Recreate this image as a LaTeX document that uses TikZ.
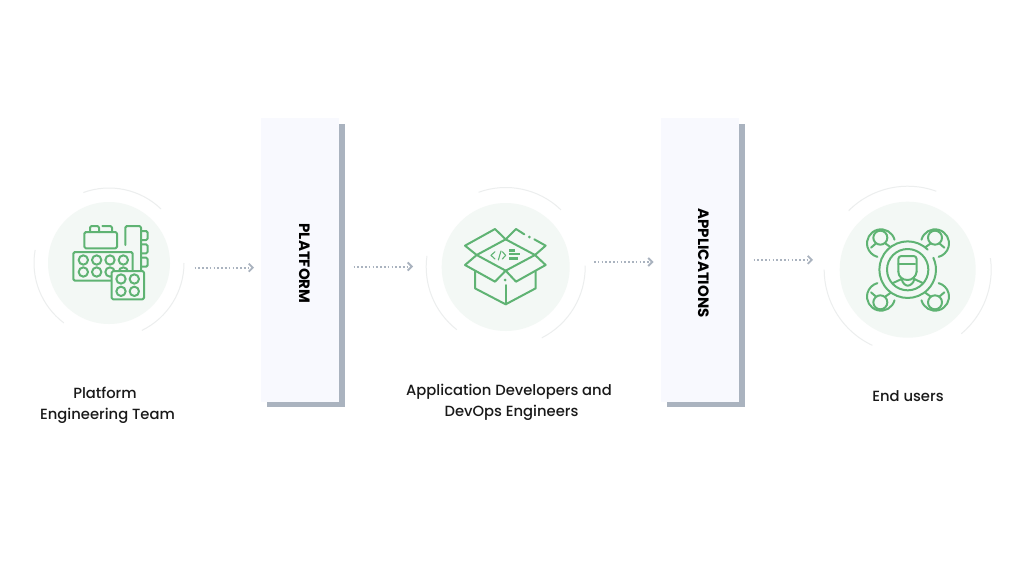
\documentclass[tikz,border=0pt]{standalone}
\usepackage{fontspec}
\setmainfont{Poppins}
\newfontfamily\capfont{Poppins Medium}
\usetikzlibrary{arrows.meta}
\definecolor{leaf}{HTML}{5FB373}
\definecolor{discbg}{HTML}{F3F8F5}
\definecolor{ringc}{HTML}{ECEEEE}
\definecolor{panelbg}{HTML}{F8F9FE}
\definecolor{slate}{HTML}{AAB3BF}
\tikzset{
  disc/.style={circle,fill=discbg,inner sep=0pt,outer sep=0pt},
  ring/.style={draw=ringc,line width=1pt},
  panel/.style={rectangle,fill=panelbg,inner sep=0pt,outer sep=0pt,minimum width=78pt,minimum height=284pt},
  backing/.style={rectangle,fill=slate,inner sep=0pt,outer sep=0pt,minimum width=78pt,minimum height=283pt},
  vlabel/.style={rotate=-90,font=\fontsize{15}{17}\selectfont\bfseries,text=black,inner sep=0pt},
  caption/.style={align=center,font=\capfont\fontsize{14.75}{21}\selectfont,text=black!90,inner sep=0pt},
  flow/.style={draw=slate,line width=2pt,dash pattern=on 1.6pt off 2.2pt,-{Straight Barb[length=4pt,width=8pt,line width=1.8pt]}},
  icon/.style={draw=leaf,line width=2pt,line join=round,line cap=round},
  thinicon/.style={draw=leaf,line width=1.1pt,line join=round,line cap=round},
}
\newcommand{\ringarc}[4]{\draw[ring] ([shift={(#2:#4pt)}]#1.center) arc[start angle=#2,end angle=#3,radius=#4pt];}
\begin{document}
\begin{tikzpicture}[x=1pt,y=-1pt]
\useasboundingbox (0,0) rectangle (1024,576);
\fill[white] (0,0) rectangle (1024,576);

% discs and rings
\node[disc,minimum size=122pt] (team) at (109,263) {};
\node[disc,minimum size=128pt] (devs) at (505.7,267) {};
\node[disc,minimum size=136pt] (users) at (907.7,269.7) {};
\ringarc{team}{110}{46}{75}
\ringarc{team}{170}{233}{75}
\ringarc{team}{-64}{0}{75}
\ringarc{devs}{110}{46}{79.5}
\ringarc{devs}{172}{232}{79.5}
\ringarc{devs}{-63}{1}{79.5}
\ringarc{users}{135}{70}{83.5}
\ringarc{users}{180}{245}{83.5}
\ringarc{users}{-50}{8}{83.5}

% panels
\node[backing] (platformback) at (305.5,265.5) {};
\node[panel] (platform) at (300,259.5) {};
\node[backing] (appsback) at (705.5,265.5) {};
\node[panel] (apps) at (699.5,259.5) {};
\node[vlabel] (platformtext) at (304.5,263.5) {PLATFORM};
\node[vlabel] (appstext) at (703.5,263) {APPLICATIONS};

% captions
\node[caption] (teamtext) at (107.5,405) {Platform\hspace*{5pt}\\Engineering Team};
\node[caption] (devstext) at (509,402.5) {Application Developers and\\\hspace*{5pt}DevOps Engineers};
\node[caption] (userstext) at (908,396.5) {End users};

% connectors
\coordinate (f1a) at (194.5,267.7); \coordinate (f1b) at (254,267.7);
\coordinate (f2a) at (353.5,266.5); \coordinate (f2b) at (413,266.5);
\coordinate (f3a) at (594,262); \coordinate (f3b) at (653.5,262);
\coordinate (f4a) at (753.5,259.8); \coordinate (f4b) at (813,259.8);
\draw[flow] (f1a) -- (f1b);
\draw[flow] (f2a) -- (f2b);
\draw[flow] (f3a) -- (f3b);
\draw[flow] (f4a) -- (f4b);

% icon: building blocks
\begin{scope}[shift={(20,170)},x=.33333pt,y=-.33333pt]
\draw[icon,rounded corners=1.5pt] (193,235) rectangle (291,186);
\draw[icon,rounded corners=1.5pt] (210,186) -- (210,168) -- (237,168) -- (237,186);
\draw[icon,rounded corners=1.5pt] (247,168) -- (276,168) -- (276,186);
\draw[icon,rounded corners=1.5pt] (316,225) -- (316,168) -- (363,168) -- (363,300);
\foreach \y in {183,223,263}
  \draw[icon,rounded corners=1.5pt] (363,\y) -- (383,\y) -- (383,\y+27) -- (363,\y+27);
\draw[icon,rounded corners=1.5pt] (275,332) -- (160,332) -- (160,246) -- (338,246) -- (338,300);
\foreach \x in {190,230,270,310}
  \draw[icon] (\x,270) circle[radius=14];
\foreach \x in {190,230,270,310}
  \draw[icon] (\x,306) circle[radius=14];
\draw[icon,fill=discbg,rounded corners=1.5pt] (275,303) rectangle (372,388);
\foreach \x in {303,343} \foreach \y in {327,364}
  \draw[icon] (\x,\y) circle[radius=14];
\end{scope}

% icon: open box
\begin{scope}[shift={(415,175)},x=.33333pt,y=-.33333pt]
\draw[icon] (180,290) -- (180,340) -- (272,388) -- (362,340) -- (362,290);
\draw[icon] (272,388) -- (272,330);
\fill[leaf] (270,315) circle[radius=4.5];
\draw[icon] (185,240) -- (272,193) -- (360,240) -- (272,287) -- cycle;
\draw[icon] (185,240) -- (150,212) -- (240,162) -- (272,193);
\draw[icon] (272,193) -- (303,162) -- (328,178);
\fill[leaf] (343,186) circle[radius=4.5];
\draw[icon] (358,193) -- (392,212) -- (360,240);
\draw[icon] (185,240) -- (150,270) -- (240,320) -- (272,287);
\draw[icon] (272,287) -- (303,320) -- (392,270) -- (360,240);
\draw[thinicon] (240,230) -- (228,241) -- (240,252);
\draw[thinicon] (258,228) -- (250,255);
\draw[thinicon] (262,230) -- (272,241) -- (262,252);
\fill[leaf] (282,222) rectangle (300,230);
\fill[leaf] (282,233) rectangle (315,241);
\fill[leaf] (282,245) rectangle (308,256);
\end{scope}

% icon: people around a person
\begin{scope}[shift={(815,175)},x=.33333pt,y=-.33333pt]
\draw[icon] ([shift={(45:28.3pt)}]278,284) arc[start angle=45,end angle=385,radius=28.3pt];
\draw[icon] (278,284) circle[radius=62];
\draw[icon,rounded corners=3pt] (250,290) -- (250,243) -- (305,243) -- (305,290);
\draw[icon] (305,290) .. controls (303,306) and (290,315) .. (278,315) .. controls (263,315) and (250,306) .. (250,290);
\draw[icon] (250,268) -- (300,268);
\draw[icon] (232,325) -- (260,312) .. controls (262,325) and (272,332) .. (278,332) .. controls (285,332) and (296,325) .. (298,312) -- (325,325);
% upper left
\draw[icon] ([shift={(15:14pt)}]198,205) arc[start angle=15,end angle=255,radius=14pt];
\draw[icon] (196,188) circle[radius=21];
\draw[icon] (168,218) -- (182,206);
\draw[icon] (212,206) -- (226,216);
% upper right
\draw[icon] ([shift={(165:14pt)}]360,205) arc[start angle=165,end angle=-75,radius=14pt];
\draw[icon] (360,188) circle[radius=21];
\draw[icon] (332,216) -- (346,206);
\draw[icon] (374,206) -- (388,218);
% lower left
\draw[icon] ([shift={(-15:14pt)}]198,365) arc[start angle=-15,end angle=-255,radius=14pt];
\draw[icon] (196,382) circle[radius=21];
\draw[icon] (168,352) -- (182,364);
\draw[icon] (212,364) -- (226,354);
% lower right
\draw[icon] ([shift={(195:14pt)}]360,365) arc[start angle=195,end angle=435,radius=14pt];
\draw[icon] (360,382) circle[radius=21];
\draw[icon] (332,354) -- (346,364);
\draw[icon] (374,364) -- (388,352);
\end{scope}
\end{tikzpicture}
\end{document}
